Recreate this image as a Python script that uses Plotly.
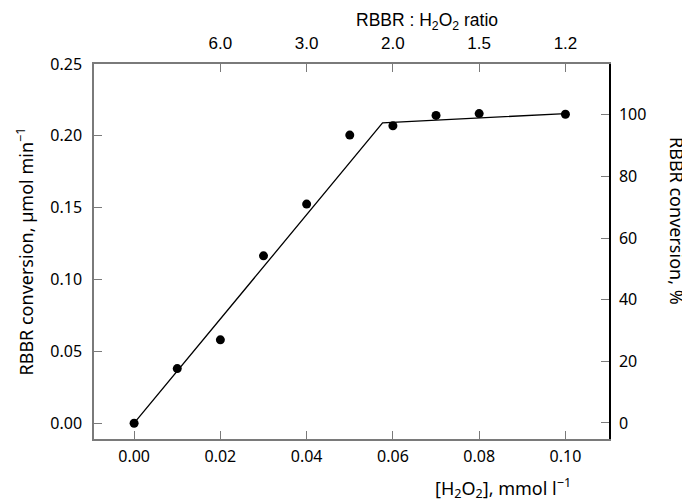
import plotly.graph_objects as go

# measured points
h2o2 = [0.0, 0.01, 0.02, 0.03, 0.04, 0.05, 0.06, 0.07, 0.08, 0.10]
rbbr_rate = [0.0, 0.038, 0.058, 0.1165, 0.1525, 0.2005, 0.207, 0.2142, 0.2155, 0.215]

# fitted broken line
fit_x = [0.0, 0.0576, 0.10]
fit_y = [0.0, 0.209, 0.2155]

# top axis: RBBR : H2O2 ratio
ratio_pos = [0.02, 0.04, 0.06, 0.08, 0.10]
ratio_labels = ["6.0", "3.0", "2.0", "1.5", "1.2"]

# right axis: conversion %
pct_ticks = [0, 20, 40, 60, 80, 100]

GRAY = "#7a7a7a"
FONT = "Noto Sans"
NARROW = "Liberation Sans Narrow, Liberation Sans"
xr = [-0.0093, 0.1101]

fig = go.Figure()
fig.add_trace(go.Scatter(x=fit_x, y=fit_y, mode="lines",
                         line=dict(color="black", width=1.3), showlegend=False))
fig.add_trace(go.Scatter(x=h2o2, y=rbbr_rate, mode="markers",
                         marker=dict(color="black", size=9), showlegend=False))
# invisible traces to activate the secondary axes
fig.add_trace(go.Scatter(x=[None], y=[None], xaxis="x2", yaxis="y", showlegend=False))
fig.add_trace(go.Scatter(x=[None], y=[None], xaxis="x", yaxis="y2", showlegend=False))

# the page body adds an 8px offset, so the figure is a bit smaller than the window
fig.update_layout(
    width=682, height=495,
    margin=dict(l=86, r=80.5, t=56, b=64),
    plot_bgcolor="white", paper_bgcolor="white",
    font=dict(family=FONT, size=16, color="black"),
    xaxis=dict(range=xr, tickvals=[0, 0.02, 0.04, 0.06, 0.08, 0.10],
               ticktext=["0.00", "0.02", "0.04", "0.06", "0.08", "0.10"],
               ticks="inside", ticklen=8, tickcolor=GRAY, tickwidth=1.3,
               showline=True, linecolor=GRAY, linewidth=1.5, automargin=False,
               showgrid=False, zeroline=False, ticklabelstandoff=2),
    xaxis2=dict(range=xr, overlaying="x", side="top", anchor="y",
                tickvals=ratio_pos, ticktext=ratio_labels, automargin=False,
                ticks="inside", ticklen=8, tickcolor=GRAY, tickwidth=1.3,
                showline=True, linecolor=GRAY, linewidth=1.5,
                showgrid=False, zeroline=False, ticklabelstandoff=6,
                tickfont=dict(family=NARROW, size=17)),
    yaxis=dict(range=[-0.011, 0.25], tickvals=[0, 0.05, 0.10, 0.15, 0.20, 0.25],
               ticktext=["0.00", "0.05", "0.10", "0.15", "0.20", "0.25"],
               ticks="inside", ticklen=8, tickcolor=GRAY, tickwidth=1.3,
               showline=True, linecolor=GRAY, linewidth=1.5, automargin=False,
               showgrid=False, zeroline=False, ticklabelstandoff=7),
    yaxis2=dict(range=[-5.2, 116.5], overlaying="y", side="right", anchor="x",
                tickvals=pct_ticks, ticks="inside", ticklen=8, tickcolor=GRAY,
                tickwidth=1.3, showline=True, linecolor="black", linewidth=1.5,
                automargin=False, showgrid=False, zeroline=False,
                ticklabelstandoff=5),
)

fig.add_annotation(text="RBBR conversion, µmol min<sup>−1</sup>", textangle=-90,
                   xref="paper", yref="paper", x=-0.134, y=0.5,
                   xanchor="center", yanchor="middle", showarrow=False,
                   font=dict(size=18))
fig.add_annotation(text="RBBR conversion, %", textangle=90,
                   xref="paper", yref="paper", x=1.133, y=0.58,
                   xanchor="center", yanchor="middle", showarrow=False,
                   font=dict(size=18))
fig.add_annotation(text="[H<sub>2</sub>O<sub>2</sub>], mmol l<sup>−1</sup>",
                   xref="paper", yref="paper", x=0.93, y=-0.13,
                   xanchor="right", yanchor="middle", showarrow=False,
                   font=dict(size=18))
fig.add_annotation(text="RBBR : H<sub>2</sub>O<sub>2</sub> ratio",
                   xref="paper", yref="paper", x=0.646, y=1.113,
                   xanchor="center", yanchor="middle", showarrow=False,
                   font=dict(family=NARROW, size=17.5))

fig.write_html("out.html")
